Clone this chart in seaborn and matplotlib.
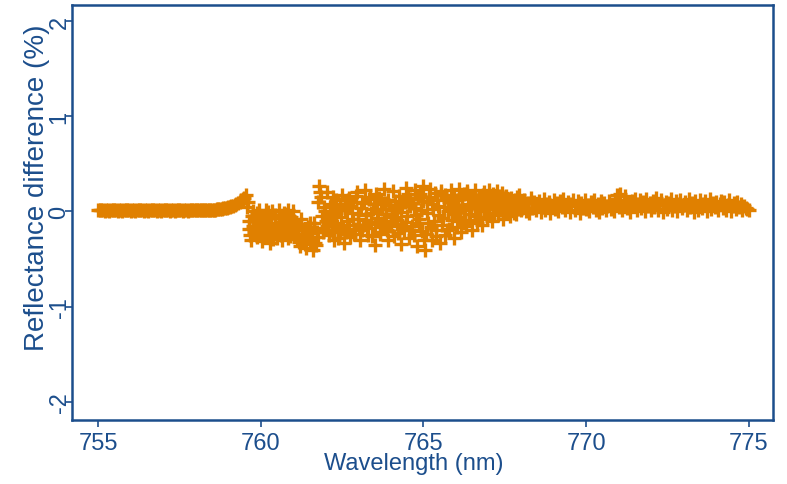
import numpy as np
import pandas as pd
import seaborn as sns
import matplotlib
matplotlib.use("Agg")
import matplotlib.pyplot as plt

# wavelength sampling grids (nm), two interleaved scans
wl_flat = np.linspace(755.0, 759.5, 46)
wl_flat2 = np.linspace(755.05, 759.45, 45)
wl_noisy = np.linspace(759.55, 768.0, 170)
wl_noisy2 = np.linspace(759.575, 767.975, 169)
wl_tail = np.linspace(768.05, 775.0, 140)

# reflectance difference (%)
diff_flat = [
    0.02, 0.01, 0.00, 0.01, 0.02, 0.01, 0.00, 0.01, 0.02, 0.01,
    0.00, 0.01, 0.02, 0.01, 0.00, 0.01, 0.02, 0.01, 0.00, 0.01,
    0.02, 0.01, 0.00, 0.01, 0.02, 0.01, 0.00, 0.01, 0.02, 0.01,
    0.01, 0.01, 0.02, 0.01, 0.02, 0.02, 0.02, 0.03, 0.03, 0.04,
    0.045, 0.055, 0.07, 0.09, 0.115, 0.14,
]
diff_flat2 = [
    0.01, 0.02, 0.01, 0.00, 0.01, 0.02, 0.01, 0.00, 0.01, 0.02,
    0.01, 0.00, 0.01, 0.02, 0.01, 0.00, 0.01, 0.02, 0.01, 0.00,
    0.01, 0.02, 0.01, 0.00, 0.01, 0.02, 0.01, 0.00, 0.01, 0.02,
    0.01, 0.02, 0.01, 0.02, 0.02, 0.02, 0.025, 0.03, 0.035, 0.04,
    0.05, 0.06, 0.08, 0.10, 0.13,
]
diff_noisy = [
    0.17, 0.10, -0.18, -0.30, 0.00, -0.22, -0.08, -0.27, 0.01, -0.15,
    -0.31, -0.05, 0.01, -0.24, -0.12, -0.33, 0.00, -0.19, -0.06, -0.28,
    0.01, -0.14, -0.30, -0.02, -0.22, -0.09, 0.02, -0.26, -0.17, 0.00,
    -0.11, -0.29, -0.20, -0.36, -0.13, -0.31, -0.24, -0.38, -0.16, -0.33,
    -0.22, -0.40, -0.12, -0.35, -0.27, 0.27, 0.15, -0.18, 0.05, -0.10,
    0.20, -0.25, 0.08, -0.05, -0.30, 0.12, -0.15, 0.02, -0.22, 0.17,
    -0.33, 0.05, -0.10, 0.14, -0.27, -0.02, 0.10, -0.18, 0.20, -0.08,
    -0.30, 0.09, -0.14, 0.22, -0.04, -0.25, 0.15, -0.11, 0.03, -0.35,
    0.18, -0.07, -0.22, 0.11, -0.16, 0.24, -0.03, -0.30, 0.07, -0.12,
    0.21, -0.26, 0.02, -0.09, 0.16, -0.34, 0.08, -0.19, 0.25, -0.05,
    -0.28, 0.13, -0.15, 0.04, 0.22, -0.36, -0.08, 0.18, -0.21, 0.27,
    -0.40, 0.10, -0.12, 0.24, -0.30, 0.03, 0.19, -0.20, 0.06, -0.33,
    0.21, -0.07, -0.25, 0.15, 0.00, -0.18, 0.23, 0.08, -0.28, 0.12,
    -0.10, 0.24, -0.22, 0.05, 0.18, -0.15, 0.21, -0.03, 0.14, -0.20,
    0.09, 0.22, -0.12, 0.16, 0.02, -0.14, 0.20, 0.07, -0.06, 0.23,
    0.11, -0.10, 0.18, 0.03, 0.21, -0.04, 0.13, 0.19, -0.08, 0.10,
    0.16, 0.00, -0.05, 0.14, 0.06, 0.12, -0.03, 0.09, 0.17, 0.02,
]
diff_noisy2 = [
    0.05, -0.10, -0.25, -0.05, -0.15, -0.20, -0.02, -0.12, -0.24, -0.06,
    -0.18, -0.26, -0.08, -0.01, -0.20, -0.14, -0.29, -0.04, -0.16, -0.22,
    -0.07, -0.25, -0.11, -0.18, -0.03, -0.28, -0.13, -0.06, -0.21, -0.10,
    -0.24, -0.15, -0.32, -0.08, -0.26, -0.19, -0.34, -0.21, -0.28, -0.12,
    -0.30, -0.17, -0.33, -0.22, 0.10, 0.20, -0.05, -0.22, 0.00, -0.15,
    -0.08, 0.05, -0.20, 0.15, -0.12, -0.02, -0.28, 0.08, -0.06, -0.18,
    0.02, -0.22, 0.12, -0.14, 0.06, -0.08, -0.24, 0.16, -0.03, -0.16,
    0.04, -0.20, 0.10, -0.09, -0.17, 0.13, -0.02, -0.26, 0.08, -0.13,
    -0.01, 0.14, -0.24, 0.03, -0.10, 0.09, -0.20, 0.12, -0.15, 0.01,
    -0.06, 0.11, -0.13, -0.23, 0.05, -0.01, -0.16, 0.10, -0.11, 0.18,
    0.06, -0.19, 0.09, -0.25, -0.04, 0.14, -0.12, 0.02, 0.11, -0.30,
    -0.24, -0.02, 0.15, -0.16, 0.08, -0.10, -0.26, 0.12, -0.04, 0.18,
    -0.14, 0.05, 0.17, -0.20, 0.10, 0.03, -0.09, 0.15, -0.02, -0.16,
    0.07, -0.06, 0.13, -0.12, 0.02, 0.19, 0.08, -0.09, 0.04, 0.16,
    -0.05, 0.12, 0.04, -0.08, 0.10, 0.17, 0.00, 0.14, 0.05, -0.02,
    0.15, 0.06, -0.03, 0.12, 0.08, 0.16, 0.02, 0.10, 0.14, 0.04,
    0.08, 0.13, 0.04, 0.10, -0.02, 0.07, 0.15, 0.03, 0.11,
]
diff_tail = [
    0.06, 0.12, 0.00, 0.09, -0.02, 0.14, 0.04, 0.10, 0.01, 0.07,
    0.11, -0.01, 0.05, 0.13, 0.02, 0.08, 0.10, -0.02, 0.06, 0.12,
    0.03, 0.09, 0.00, 0.11, 0.05, 0.13, 0.01, 0.07, 0.10, -0.01,
    0.08, 0.12, 0.02, 0.06, 0.11, -0.02, 0.09, 0.04, 0.12, 0.03,
    0.07, 0.00, 0.10, 0.05, 0.12, 0.02, 0.08, -0.01, 0.11, 0.04,
    0.09, 0.01, 0.06, 0.11, 0.03, 0.08, 0.00, 0.10, 0.17, 0.05,
    0.18, 0.02, 0.12, 0.16, 0.04, 0.09, -0.01, 0.11, 0.06, 0.13,
    0.01, 0.08, 0.12, 0.04, 0.10, 0.00, 0.13, 0.06, 0.09, 0.02,
    0.11, 0.05, 0.14, 0.01, 0.08, 0.12, -0.01, 0.07, 0.10, 0.03,
    0.09, 0.13, 0.02, 0.06, 0.11, 0.00, 0.08, 0.12, 0.04, 0.07,
    0.10, 0.01, 0.13, 0.05, 0.09, -0.01, 0.11, 0.06, 0.02, 0.12,
    0.04, 0.08, 0.11, 0.00, 0.07, 0.13, 0.03, 0.09, 0.05, 0.10,
    0.01, 0.08, 0.11, 0.04, 0.10, 0.02, 0.07, 0.12, 0.00, 0.06,
    0.09, 0.03, 0.10, 0.05, 0.08, 0.01, 0.06, 0.04, 0.03, 0.02,
]

x_ticks = [755, 760, 765, 770, 775]
y_ticks = [-2, -1, 0, 1, 2]

navy = "#1c4e8c"
orange = "#e08000"

df = pd.DataFrame({
    "wl": np.concatenate([wl_flat, wl_flat2, wl_noisy, wl_noisy2, wl_tail]),
    "diff": np.concatenate([diff_flat, diff_flat2, diff_noisy, diff_noisy2, diff_tail]),
})

sns.set_style("white")
plt.rcParams["font.family"] = ["Liberation Sans", "DejaVu Sans"]

fig = plt.figure(figsize=(7.87, 4.85), dpi=100)
ax = fig.add_axes([0.0915, 0.132, 0.891, 0.856])

sns.scatterplot(data=df, x="wl", y="diff", marker="+", s=110, color=orange,
                linewidth=2.4, ax=ax, legend=False)

ax.set_xlim(754.2, 775.75)
ax.set_ylim(-2.19, 2.17)
ax.set_xticks(x_ticks)
ax.set_yticks(y_ticks)
ax.set_xticklabels([str(t) for t in x_ticks])
ax.set_yticklabels([str(t) for t in y_ticks], rotation=90, va="center")

for sp in ax.spines.values():
    sp.set_color(navy)
    sp.set_linewidth(1.8)
ax.tick_params(colors=navy, labelsize=17, length=5, width=1.2, direction="out",
               bottom=True, left=True)
ax.tick_params(axis="y", pad=-4)
ax.set_xlabel("Wavelength (nm)", color=navy, fontsize=17)
ax.set_ylabel("Reflectance difference (%)", color=navy, fontsize=20)
ax.xaxis.set_label_coords(0.488, -0.077)
ax.yaxis.set_label_coords(-0.05, 0.561)
ax.yaxis.label.set_va("center")
ax.xaxis.label.set_va("top")

fig.savefig("out.png", dpi=100)
